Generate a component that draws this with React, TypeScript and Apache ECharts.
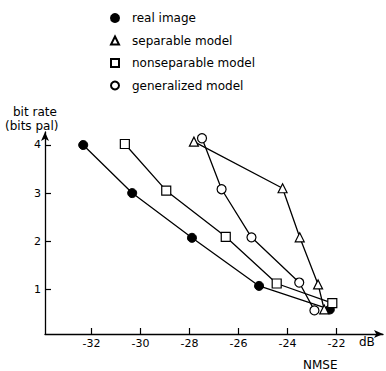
import React, { useEffect, useRef } from "react";
import * as echarts from "echarts";

const seriesNames = ["real image", "separable model", "nonseparable model", "generalized model"];
const realImage = [[-32.34, 4.0], [-30.34, 3.0], [-27.9, 2.07], [-25.16, 1.07], [-22.27, 0.58]];
const separable = [[-27.82, 4.07], [-24.2, 3.1], [-23.5, 2.08], [-22.75, 1.1], [-22.5, 0.58]];
const nonseparable = [[-30.64, 4.02], [-28.95, 3.05], [-26.52, 2.09], [-24.44, 1.12], [-22.17, 0.71]];
const generalized = [[-27.49, 4.14], [-26.69, 3.08], [-25.47, 2.08], [-23.52, 1.14], [-22.9, 0.56]];
const xTicks = [-32, -30, -28, -26, -24, -22];
const yTicks = [1, 2, 3, 4];

const FONT = "'DejaVu Sans', sans-serif";

export default function App() {
  const ref = useRef<HTMLDivElement>(null);
  useEffect(() => {
    if (!ref.current) return;
    const chart = echarts.init(ref.current, null, { renderer: "svg" });
    const open = { color: "#fff", borderColor: "#000", borderWidth: 1.2 };
    const mk = (name: string, data: number[][], symbol: string, filled: boolean, size: number) => ({
      name,
      type: "line",
      data,
      symbol,
      symbolSize: size,
      showAllSymbol: true,
      lineStyle: { color: "#000", width: 1.3 },
      itemStyle: filled ? { color: "#000", borderColor: "#000", borderWidth: 1 } : open,
      z: 3,
    });
    chart.setOption({
      animation: false,
      backgroundColor: "#fff",
      grid: { left: 45, right: 3, top: 132, bottom: 37 },
      legend: {
        orient: "vertical",
        left: 105,
        top: 7,
        itemWidth: 8,
        itemHeight: 8,
        itemGap: 10.5,
        textStyle: { fontFamily: FONT, fontSize: 12, color: "#000", padding: [0, 0, 0, 8] },
        data: [
          { name: seriesNames[0], icon: "circle" },
          { name: seriesNames[1], icon: "triangle" },
          { name: seriesNames[2], icon: "rect" },
          { name: seriesNames[3], icon: "circle" },
        ],
      },
      xAxis: {
        type: "value",
        min: -33.9,
        max: -20.1,
        axisLine: { show: true, lineStyle: { color: "#000", width: 1.3 }, symbol: ["none", "arrow"], symbolSize: [6, 9], onZero: false },
        axisTick: { show: true, inside: true, length: 6, customValues: xTicks, lineStyle: { color: "#000", width: 1.2 } },
        axisLabel: { customValues: xTicks, color: "#000", fontFamily: FONT, fontSize: 11, margin: 4 },
        splitLine: { show: false },
      },
      yAxis: {
        type: "value",
        min: 0.07,
        max: 4.27,
        axisLine: { show: true, lineStyle: { color: "#000", width: 1.3 }, symbol: ["none", "arrow"], symbolSize: [6, 9], onZero: false },
        axisTick: { show: true, inside: true, length: 6, customValues: yTicks, lineStyle: { color: "#000", width: 1.2 } },
        axisLabel: { customValues: yTicks, color: "#000", fontFamily: FONT, fontSize: 11, margin: 4 },
        splitLine: { show: false },
      },
      graphic: [
        { type: "text", left: 13, top: 106, style: { text: "bit rate", font: `12px ${FONT}`, fill: "#000" } },
        { type: "text", left: 5, top: 120, style: { text: "(bits pal)", font: `12px ${FONT}`, fill: "#000" } },
        { type: "text", left: 359, top: 336, style: { text: "dB", font: `12px ${FONT}`, fill: "#000" } },
        { type: "text", left: 303, top: 359, style: { text: "NMSE", font: `12px ${FONT}`, fill: "#000" } },
      ],
      series: [
        mk(seriesNames[0], realImage, "circle", true, 9),
        mk(seriesNames[1], separable, "triangle", false, 9),
        mk(seriesNames[2], nonseparable, "rect", false, 9),
        mk(seriesNames[3], generalized, "circle", false, 9),
      ],
    });
    return () => chart.dispose();
  }, []);
  return <div ref={ref} style={{ position: "absolute", left: 0, top: 0, width: 386, height: 371 }} />;
}
